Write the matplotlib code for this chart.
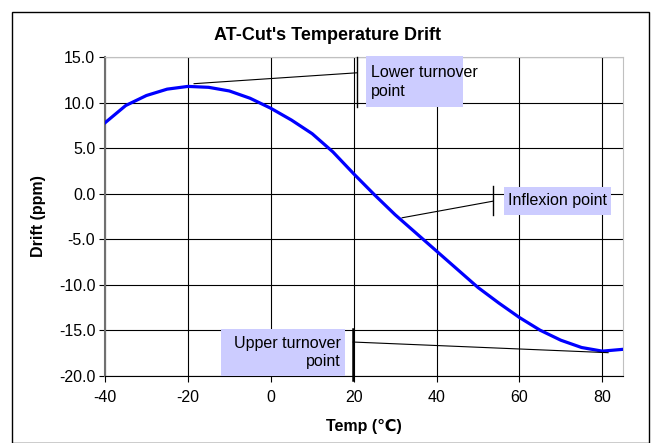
import matplotlib.pyplot as plt
from matplotlib.patches import Rectangle

# temperature (deg C) and frequency drift (ppm)
temps = [-40, -35, -30, -25, -20, -15, -10, -5, 0, 5, 10, 15, 20, 25, 30,
         35, 40, 45, 50, 55, 60, 65, 70, 75, 80, 85]
drift = [7.8, 9.7, 10.8, 11.5, 11.8, 11.7, 11.3, 10.5, 9.4, 8.1, 6.6, 4.6,
         2.2, -0.1, -2.3, -4.3, -6.3, -8.3, -10.3, -12.0, -13.6, -15.0,
         -16.1, -16.9, -17.3, -17.1]

x_ticks = [-40, -20, 0, 20, 40, 60, 80]
y_ticks = [15, 10, 5, 0, -5, -10, -15, -20]

plt.rcParams['font.family'] = ['Liberation Sans', 'DejaVu Sans']
plt.rcParams['axes.unicode_minus'] = False

fig = plt.figure(figsize=(6.54, 4.43), dpi=100)
ax = fig.add_axes([105 / 654, 67.3 / 443, 518 / 654, 318.4 / 443])

# outer chart frame
fig.patches.append(Rectangle((12 / 654, 0.0), 637 / 654, 431 / 443,
                             transform=fig.transFigure, fill=False,
                             edgecolor='black', linewidth=1.0))

ax.plot(temps, drift, color='#0000ff', linewidth=2.3, zorder=3)

ax.set_xlim(-40, 85)
ax.set_ylim(-20, 15)
ax.set_xticks(x_ticks)
ax.set_yticks(y_ticks)
ax.set_yticklabels([f"{v:.1f}" for v in y_ticks])
ax.grid(True, color='black', linewidth=0.8)
ax.set_axisbelow(True)
ax.tick_params(direction='out', length=4, width=0.8, labelsize=11.5, pad=3)
ax.tick_params(axis='x', pad=6)

for side in ['top', 'right']:
    ax.spines[side].set_color('#c0c0c0')
ax.spines['left'].set_color('#707070')
ax.spines['left'].set_linewidth(1.5)
ax.spines['bottom'].set_color('black')

ax.set_xlabel("Temp (℃)", fontsize=11.5, fontweight='bold', labelpad=10)
ax.set_ylabel("Drift (ppm)", fontsize=11.5, fontweight='bold', labelpad=9)
fig.text(0.5, 1 - 35 / 443, "AT-Cut's Temperature Drift", ha='center',
         va='center', fontsize=13, fontweight='bold')

box_color = '#ccccff'


def callout(box, text, ha, text_x, bar_x, bar_y, start, end, bar_lw=1.0):
    x0, y0, x1, y1 = box
    ax.add_patch(Rectangle((x0, y0), x1 - x0, y1 - y0, facecolor=box_color,
                           edgecolor='none', clip_on=False, zorder=4))
    ax.text(text_x, (y0 + y1) / 2, text, ha=ha, va='center', fontsize=11.5,
            linespacing=1.3, zorder=5, clip_on=False)
    ax.plot([bar_x, bar_x], bar_y, color='black', linewidth=bar_lw,
            clip_on=False, zorder=4)
    ax.plot([start[0], end[0]], [start[1], end[1]], color='black',
            linewidth=0.8, clip_on=False, zorder=4)


callout((23.1, 9.5, 46.4, 15.1), "Lower turnover\npoint", 'left', 24.1,
        20.9, [9.5, 15.0], (-18.5, 12.1), (20.9, 13.3))
callout((56.3, -2.35, 82.2, 0.77), "Inflexion point", 'center', 69.3,
        53.7, [-2.35, 0.8], (31.7, -2.64), (53.7, -0.81))
callout((-12.0, -20.04, 17.8, -14.9), "Upper turnover\npoint", 'right', 16.8,
        19.9, [-20.5, -14.9], (19.9, -16.3), (81.4, -17.47), bar_lw=1.8)

fig.savefig("out.png", dpi=100)
